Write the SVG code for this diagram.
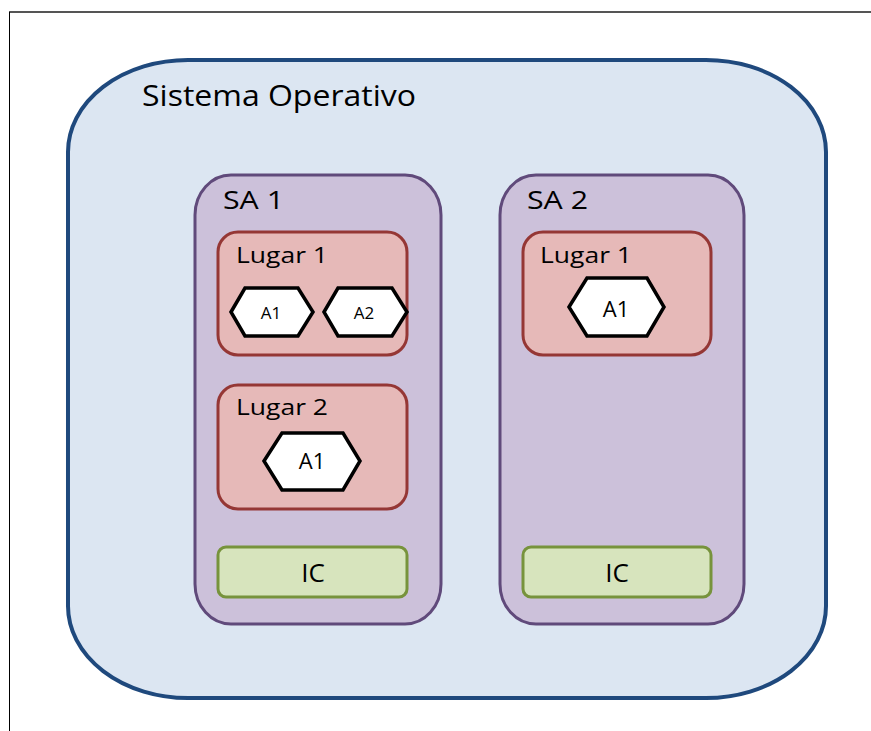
<svg xmlns="http://www.w3.org/2000/svg" width="871" height="731" viewBox="0 0 871 731">
<style>
text{font-family:"Open Sans","Noto Sans","Liberation Sans",sans-serif;fill:#000}
.os{fill:#dce6f2;stroke:#1f497d;stroke-width:4}
.sa{fill:#ccc1da;stroke:#604a7b;stroke-width:3}
.lg{fill:#e6b9b8;stroke:#953735;stroke-width:3}
.ic{fill:#d7e4bd;stroke:#77933c;stroke-width:3}
.hx{fill:#fff;stroke:#000;stroke-width:3.5;stroke-linejoin:miter}
</style>
<rect width="871" height="731" fill="#fff"/>
<line x1="9" y1="12" x2="871" y2="12" stroke="#555" stroke-width="2"/>
<line x1="9.5" y1="12" x2="9.5" y2="731" stroke="#000" stroke-width="1"/>
<g id="sistema-operativo">
<rect class="os" x="68" y="60" width="758" height="638" rx="120" ry="92"/>
<text x="142" y="106" font-size="29" textLength="274" lengthAdjust="spacingAndGlyphs">Sistema Operativo</text>
</g>
<g id="sa1">
<rect class="sa" x="195" y="175" width="246" height="449" rx="36" ry="40"/>
<text x="223" y="209" font-size="26" textLength="61" lengthAdjust="spacingAndGlyphs">SA 1</text>
</g>
<g id="sa1-lugar1">
<rect class="lg" x="218" y="232" width="189" height="123" rx="20" ry="20"/>
<text x="236" y="263" font-size="22" textLength="92" lengthAdjust="spacingAndGlyphs">Lugar 1</text>
</g>
<g id="sa1-lugar1-a1">
<polygon class="hx" points="231,312 245,288 298,288 313,312 298,336 245,336"/>
<text x="271" y="319" font-size="17" text-anchor="middle">A1</text>
</g>
<g id="sa1-lugar1-a2">
<polygon class="hx" points="324,312 338,288 392,288 407,312 392,336 338,336"/>
<text x="364" y="319" font-size="17" text-anchor="middle">A2</text>
</g>
<g id="sa1-lugar2">
<rect class="lg" x="218" y="385" width="189" height="124" rx="20" ry="20"/>
<text x="236" y="415" font-size="22" textLength="92" lengthAdjust="spacingAndGlyphs">Lugar 2</text>
</g>
<g id="sa1-lugar2-a1">
<polygon class="hx" points="264,461 282,433 343,433 360,461 343,490 282,490"/>
<text x="312" y="469" font-size="22" text-anchor="middle">A1</text>
</g>
<g id="sa1-ic">
<rect class="ic" x="218" y="547" width="189" height="50" rx="8" ry="8"/>
<text x="313" y="582" font-size="26" text-anchor="middle">IC</text>
</g>
<g id="sa2">
<rect class="sa" x="500" y="175" width="244" height="449" rx="36" ry="40"/>
<text x="527" y="209" font-size="26" textLength="61" lengthAdjust="spacingAndGlyphs">SA 2</text>
</g>
<g id="sa2-lugar1">
<rect class="lg" x="523" y="232" width="188" height="123" rx="20" ry="20"/>
<text x="540" y="263" font-size="22" textLength="92" lengthAdjust="spacingAndGlyphs">Lugar 1</text>
</g>
<g id="sa2-lugar1-a1">
<polygon class="hx" points="569,307 587,278 647,278 664,307 647,336 587,336"/>
<text x="616" y="317" font-size="22" text-anchor="middle">A1</text>
</g>
<g id="sa2-ic">
<rect class="ic" x="523" y="547" width="188" height="50" rx="8" ry="8"/>
<text x="617" y="582" font-size="26" text-anchor="middle">IC</text>
</g>
<g id="connectors"/>
</svg>
